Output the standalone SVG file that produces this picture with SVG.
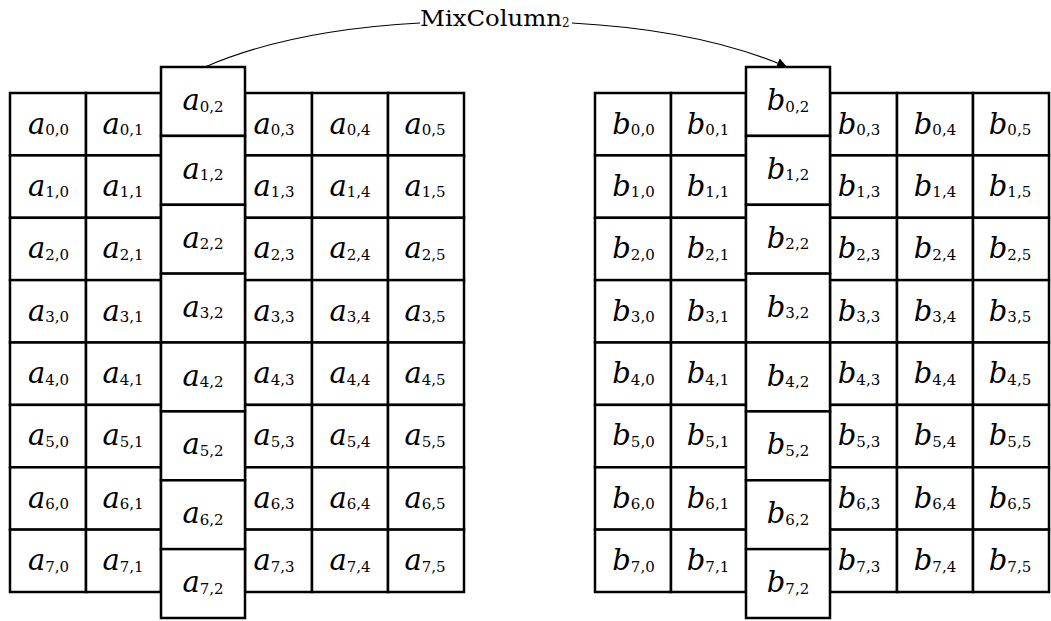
<svg xmlns="http://www.w3.org/2000/svg" width="1051" height="621" viewBox="0 0 1051 621">
<style>
  .c { fill: #ffffff; stroke: #000000; stroke-width: 2.5; }
  .t { font-family: "DejaVu Serif", "Liberation Serif", serif; text-anchor: middle; fill: #000000; }
  .v { font-size: 29px; font-style: italic; }
  .s { font-size: 15px; }
  .lbl { font-family: "DejaVu Serif", "Liberation Serif", serif; font-size: 22px; fill: #000000; }
  .edge { fill: none; stroke: #000000; stroke-width: 1.1; }
</style>
<defs>
  <marker id="head" viewBox="0 0 10 10" refX="10" refY="5" markerWidth="10" markerHeight="10" markerUnits="userSpaceOnUse" orient="auto">
    <path d="M0,0 L10,5 L0,10 Z" fill="#000000"/>
  </marker>
</defs>

<!-- input state: side columns -->
<g id="state-a">
<g id="a00"><rect class="c" x="10" y="93" width="76" height="62.4"/><text class="t" x="48.5" y="133.5"><tspan class="v">a</tspan><tspan class="s" dy="1.5">0,0</tspan></text></g>
<g id="a01"><rect class="c" x="86" y="93" width="75" height="62.4"/><text class="t" x="123" y="133.5"><tspan class="v">a</tspan><tspan class="s" dy="1.5">0,1</tspan></text></g>
<g id="a03"><rect class="c" x="245" y="93" width="67" height="62.4"/><text class="t" x="274" y="133.5"><tspan class="v">a</tspan><tspan class="s" dy="1.5">0,3</tspan></text></g>
<g id="a04"><rect class="c" x="312" y="93" width="76" height="62.4"/><text class="t" x="350" y="133.5"><tspan class="v">a</tspan><tspan class="s" dy="1.5">0,4</tspan></text></g>
<g id="a05"><rect class="c" x="388" y="93" width="76" height="62.4"/><text class="t" x="425" y="133.5"><tspan class="v">a</tspan><tspan class="s" dy="1.5">0,5</tspan></text></g>

<g id="a10"><rect class="c" x="10" y="155.4" width="76" height="62.4"/><text class="t" x="48.5" y="195.9"><tspan class="v">a</tspan><tspan class="s" dy="1.5">1,0</tspan></text></g>
<g id="a11"><rect class="c" x="86" y="155.4" width="75" height="62.4"/><text class="t" x="123" y="195.9"><tspan class="v">a</tspan><tspan class="s" dy="1.5">1,1</tspan></text></g>
<g id="a13"><rect class="c" x="245" y="155.4" width="67" height="62.4"/><text class="t" x="274" y="195.9"><tspan class="v">a</tspan><tspan class="s" dy="1.5">1,3</tspan></text></g>
<g id="a14"><rect class="c" x="312" y="155.4" width="76" height="62.4"/><text class="t" x="350" y="195.9"><tspan class="v">a</tspan><tspan class="s" dy="1.5">1,4</tspan></text></g>
<g id="a15"><rect class="c" x="388" y="155.4" width="76" height="62.4"/><text class="t" x="425" y="195.9"><tspan class="v">a</tspan><tspan class="s" dy="1.5">1,5</tspan></text></g>

<g id="a20"><rect class="c" x="10" y="217.8" width="76" height="62.4"/><text class="t" x="48.5" y="258.3"><tspan class="v">a</tspan><tspan class="s" dy="1.5">2,0</tspan></text></g>
<g id="a21"><rect class="c" x="86" y="217.8" width="75" height="62.4"/><text class="t" x="123" y="258.3"><tspan class="v">a</tspan><tspan class="s" dy="1.5">2,1</tspan></text></g>
<g id="a23"><rect class="c" x="245" y="217.8" width="67" height="62.4"/><text class="t" x="274" y="258.3"><tspan class="v">a</tspan><tspan class="s" dy="1.5">2,3</tspan></text></g>
<g id="a24"><rect class="c" x="312" y="217.8" width="76" height="62.4"/><text class="t" x="350" y="258.3"><tspan class="v">a</tspan><tspan class="s" dy="1.5">2,4</tspan></text></g>
<g id="a25"><rect class="c" x="388" y="217.8" width="76" height="62.4"/><text class="t" x="425" y="258.3"><tspan class="v">a</tspan><tspan class="s" dy="1.5">2,5</tspan></text></g>

<g id="a30"><rect class="c" x="10" y="280.1" width="76" height="62.4"/><text class="t" x="48.5" y="320.6"><tspan class="v">a</tspan><tspan class="s" dy="1.5">3,0</tspan></text></g>
<g id="a31"><rect class="c" x="86" y="280.1" width="75" height="62.4"/><text class="t" x="123" y="320.6"><tspan class="v">a</tspan><tspan class="s" dy="1.5">3,1</tspan></text></g>
<g id="a33"><rect class="c" x="245" y="280.1" width="67" height="62.4"/><text class="t" x="274" y="320.6"><tspan class="v">a</tspan><tspan class="s" dy="1.5">3,3</tspan></text></g>
<g id="a34"><rect class="c" x="312" y="280.1" width="76" height="62.4"/><text class="t" x="350" y="320.6"><tspan class="v">a</tspan><tspan class="s" dy="1.5">3,4</tspan></text></g>
<g id="a35"><rect class="c" x="388" y="280.1" width="76" height="62.4"/><text class="t" x="425" y="320.6"><tspan class="v">a</tspan><tspan class="s" dy="1.5">3,5</tspan></text></g>

<g id="a40"><rect class="c" x="10" y="342.5" width="76" height="62.4"/><text class="t" x="48.5" y="383"><tspan class="v">a</tspan><tspan class="s" dy="1.5">4,0</tspan></text></g>
<g id="a41"><rect class="c" x="86" y="342.5" width="75" height="62.4"/><text class="t" x="123" y="383"><tspan class="v">a</tspan><tspan class="s" dy="1.5">4,1</tspan></text></g>
<g id="a43"><rect class="c" x="245" y="342.5" width="67" height="62.4"/><text class="t" x="274" y="383"><tspan class="v">a</tspan><tspan class="s" dy="1.5">4,3</tspan></text></g>
<g id="a44"><rect class="c" x="312" y="342.5" width="76" height="62.4"/><text class="t" x="350" y="383"><tspan class="v">a</tspan><tspan class="s" dy="1.5">4,4</tspan></text></g>
<g id="a45"><rect class="c" x="388" y="342.5" width="76" height="62.4"/><text class="t" x="425" y="383"><tspan class="v">a</tspan><tspan class="s" dy="1.5">4,5</tspan></text></g>

<g id="a50"><rect class="c" x="10" y="404.9" width="76" height="62.4"/><text class="t" x="48.5" y="445.4"><tspan class="v">a</tspan><tspan class="s" dy="1.5">5,0</tspan></text></g>
<g id="a51"><rect class="c" x="86" y="404.9" width="75" height="62.4"/><text class="t" x="123" y="445.4"><tspan class="v">a</tspan><tspan class="s" dy="1.5">5,1</tspan></text></g>
<g id="a53"><rect class="c" x="245" y="404.9" width="67" height="62.4"/><text class="t" x="274" y="445.4"><tspan class="v">a</tspan><tspan class="s" dy="1.5">5,3</tspan></text></g>
<g id="a54"><rect class="c" x="312" y="404.9" width="76" height="62.4"/><text class="t" x="350" y="445.4"><tspan class="v">a</tspan><tspan class="s" dy="1.5">5,4</tspan></text></g>
<g id="a55"><rect class="c" x="388" y="404.9" width="76" height="62.4"/><text class="t" x="425" y="445.4"><tspan class="v">a</tspan><tspan class="s" dy="1.5">5,5</tspan></text></g>

<g id="a60"><rect class="c" x="10" y="467.3" width="76" height="62.4"/><text class="t" x="48.5" y="507.8"><tspan class="v">a</tspan><tspan class="s" dy="1.5">6,0</tspan></text></g>
<g id="a61"><rect class="c" x="86" y="467.3" width="75" height="62.4"/><text class="t" x="123" y="507.8"><tspan class="v">a</tspan><tspan class="s" dy="1.5">6,1</tspan></text></g>
<g id="a63"><rect class="c" x="245" y="467.3" width="67" height="62.4"/><text class="t" x="274" y="507.8"><tspan class="v">a</tspan><tspan class="s" dy="1.5">6,3</tspan></text></g>
<g id="a64"><rect class="c" x="312" y="467.3" width="76" height="62.4"/><text class="t" x="350" y="507.8"><tspan class="v">a</tspan><tspan class="s" dy="1.5">6,4</tspan></text></g>
<g id="a65"><rect class="c" x="388" y="467.3" width="76" height="62.4"/><text class="t" x="425" y="507.8"><tspan class="v">a</tspan><tspan class="s" dy="1.5">6,5</tspan></text></g>

<g id="a70"><rect class="c" x="10" y="529.6" width="76" height="62.4"/><text class="t" x="48.5" y="570.1"><tspan class="v">a</tspan><tspan class="s" dy="1.5">7,0</tspan></text></g>
<g id="a71"><rect class="c" x="86" y="529.6" width="75" height="62.4"/><text class="t" x="123" y="570.1"><tspan class="v">a</tspan><tspan class="s" dy="1.5">7,1</tspan></text></g>
<g id="a73"><rect class="c" x="245" y="529.6" width="67" height="62.4"/><text class="t" x="274" y="570.1"><tspan class="v">a</tspan><tspan class="s" dy="1.5">7,3</tspan></text></g>
<g id="a74"><rect class="c" x="312" y="529.6" width="76" height="62.4"/><text class="t" x="350" y="570.1"><tspan class="v">a</tspan><tspan class="s" dy="1.5">7,4</tspan></text></g>
<g id="a75"><rect class="c" x="388" y="529.6" width="76" height="62.4"/><text class="t" x="425" y="570.1"><tspan class="v">a</tspan><tspan class="s" dy="1.5">7,5</tspan></text></g>
</g>

<!-- input state: column 2, shifted and taller -->
<g id="column-a2">
<g id="a02"><rect class="c" x="161" y="67" width="84" height="68.9"/><text class="t" x="203" y="110"><tspan class="v">a</tspan><tspan class="s" dy="1.5">0,2</tspan></text></g>
<g id="a12"><rect class="c" x="161" y="135.9" width="84" height="68.9"/><text class="t" x="203" y="178.9"><tspan class="v">a</tspan><tspan class="s" dy="1.5">1,2</tspan></text></g>
<g id="a22"><rect class="c" x="161" y="204.8" width="84" height="68.9"/><text class="t" x="203" y="247.8"><tspan class="v">a</tspan><tspan class="s" dy="1.5">2,2</tspan></text></g>
<g id="a32"><rect class="c" x="161" y="273.6" width="84" height="68.9"/><text class="t" x="203" y="316.6"><tspan class="v">a</tspan><tspan class="s" dy="1.5">3,2</tspan></text></g>
<g id="a42"><rect class="c" x="161" y="342.5" width="84" height="68.9"/><text class="t" x="203" y="385.5"><tspan class="v">a</tspan><tspan class="s" dy="1.5">4,2</tspan></text></g>
<g id="a52"><rect class="c" x="161" y="411.4" width="84" height="68.9"/><text class="t" x="203" y="454.4"><tspan class="v">a</tspan><tspan class="s" dy="1.5">5,2</tspan></text></g>
<g id="a62"><rect class="c" x="161" y="480.3" width="84" height="68.9"/><text class="t" x="203" y="523.3"><tspan class="v">a</tspan><tspan class="s" dy="1.5">6,2</tspan></text></g>
<g id="a72"><rect class="c" x="161" y="549.1" width="84" height="68.9"/><text class="t" x="203" y="592.1"><tspan class="v">a</tspan><tspan class="s" dy="1.5">7,2</tspan></text></g>
</g>

<!-- output state: side columns -->
<g id="state-b">
<g id="b00"><rect class="c" x="595" y="93" width="76" height="62.4"/><text class="t" x="633.5" y="133.5"><tspan class="v">b</tspan><tspan class="s" dy="1.5">0,0</tspan></text></g>
<g id="b01"><rect class="c" x="671" y="93" width="75" height="62.4"/><text class="t" x="708" y="133.5"><tspan class="v">b</tspan><tspan class="s" dy="1.5">0,1</tspan></text></g>
<g id="b03"><rect class="c" x="830" y="93" width="67" height="62.4"/><text class="t" x="859" y="133.5"><tspan class="v">b</tspan><tspan class="s" dy="1.5">0,3</tspan></text></g>
<g id="b04"><rect class="c" x="897" y="93" width="76" height="62.4"/><text class="t" x="935" y="133.5"><tspan class="v">b</tspan><tspan class="s" dy="1.5">0,4</tspan></text></g>
<g id="b05"><rect class="c" x="973" y="93" width="76" height="62.4"/><text class="t" x="1010" y="133.5"><tspan class="v">b</tspan><tspan class="s" dy="1.5">0,5</tspan></text></g>

<g id="b10"><rect class="c" x="595" y="155.4" width="76" height="62.4"/><text class="t" x="633.5" y="195.9"><tspan class="v">b</tspan><tspan class="s" dy="1.5">1,0</tspan></text></g>
<g id="b11"><rect class="c" x="671" y="155.4" width="75" height="62.4"/><text class="t" x="708" y="195.9"><tspan class="v">b</tspan><tspan class="s" dy="1.5">1,1</tspan></text></g>
<g id="b13"><rect class="c" x="830" y="155.4" width="67" height="62.4"/><text class="t" x="859" y="195.9"><tspan class="v">b</tspan><tspan class="s" dy="1.5">1,3</tspan></text></g>
<g id="b14"><rect class="c" x="897" y="155.4" width="76" height="62.4"/><text class="t" x="935" y="195.9"><tspan class="v">b</tspan><tspan class="s" dy="1.5">1,4</tspan></text></g>
<g id="b15"><rect class="c" x="973" y="155.4" width="76" height="62.4"/><text class="t" x="1010" y="195.9"><tspan class="v">b</tspan><tspan class="s" dy="1.5">1,5</tspan></text></g>

<g id="b20"><rect class="c" x="595" y="217.8" width="76" height="62.4"/><text class="t" x="633.5" y="258.3"><tspan class="v">b</tspan><tspan class="s" dy="1.5">2,0</tspan></text></g>
<g id="b21"><rect class="c" x="671" y="217.8" width="75" height="62.4"/><text class="t" x="708" y="258.3"><tspan class="v">b</tspan><tspan class="s" dy="1.5">2,1</tspan></text></g>
<g id="b23"><rect class="c" x="830" y="217.8" width="67" height="62.4"/><text class="t" x="859" y="258.3"><tspan class="v">b</tspan><tspan class="s" dy="1.5">2,3</tspan></text></g>
<g id="b24"><rect class="c" x="897" y="217.8" width="76" height="62.4"/><text class="t" x="935" y="258.3"><tspan class="v">b</tspan><tspan class="s" dy="1.5">2,4</tspan></text></g>
<g id="b25"><rect class="c" x="973" y="217.8" width="76" height="62.4"/><text class="t" x="1010" y="258.3"><tspan class="v">b</tspan><tspan class="s" dy="1.5">2,5</tspan></text></g>

<g id="b30"><rect class="c" x="595" y="280.1" width="76" height="62.4"/><text class="t" x="633.5" y="320.6"><tspan class="v">b</tspan><tspan class="s" dy="1.5">3,0</tspan></text></g>
<g id="b31"><rect class="c" x="671" y="280.1" width="75" height="62.4"/><text class="t" x="708" y="320.6"><tspan class="v">b</tspan><tspan class="s" dy="1.5">3,1</tspan></text></g>
<g id="b33"><rect class="c" x="830" y="280.1" width="67" height="62.4"/><text class="t" x="859" y="320.6"><tspan class="v">b</tspan><tspan class="s" dy="1.5">3,3</tspan></text></g>
<g id="b34"><rect class="c" x="897" y="280.1" width="76" height="62.4"/><text class="t" x="935" y="320.6"><tspan class="v">b</tspan><tspan class="s" dy="1.5">3,4</tspan></text></g>
<g id="b35"><rect class="c" x="973" y="280.1" width="76" height="62.4"/><text class="t" x="1010" y="320.6"><tspan class="v">b</tspan><tspan class="s" dy="1.5">3,5</tspan></text></g>

<g id="b40"><rect class="c" x="595" y="342.5" width="76" height="62.4"/><text class="t" x="633.5" y="383"><tspan class="v">b</tspan><tspan class="s" dy="1.5">4,0</tspan></text></g>
<g id="b41"><rect class="c" x="671" y="342.5" width="75" height="62.4"/><text class="t" x="708" y="383"><tspan class="v">b</tspan><tspan class="s" dy="1.5">4,1</tspan></text></g>
<g id="b43"><rect class="c" x="830" y="342.5" width="67" height="62.4"/><text class="t" x="859" y="383"><tspan class="v">b</tspan><tspan class="s" dy="1.5">4,3</tspan></text></g>
<g id="b44"><rect class="c" x="897" y="342.5" width="76" height="62.4"/><text class="t" x="935" y="383"><tspan class="v">b</tspan><tspan class="s" dy="1.5">4,4</tspan></text></g>
<g id="b45"><rect class="c" x="973" y="342.5" width="76" height="62.4"/><text class="t" x="1010" y="383"><tspan class="v">b</tspan><tspan class="s" dy="1.5">4,5</tspan></text></g>

<g id="b50"><rect class="c" x="595" y="404.9" width="76" height="62.4"/><text class="t" x="633.5" y="445.4"><tspan class="v">b</tspan><tspan class="s" dy="1.5">5,0</tspan></text></g>
<g id="b51"><rect class="c" x="671" y="404.9" width="75" height="62.4"/><text class="t" x="708" y="445.4"><tspan class="v">b</tspan><tspan class="s" dy="1.5">5,1</tspan></text></g>
<g id="b53"><rect class="c" x="830" y="404.9" width="67" height="62.4"/><text class="t" x="859" y="445.4"><tspan class="v">b</tspan><tspan class="s" dy="1.5">5,3</tspan></text></g>
<g id="b54"><rect class="c" x="897" y="404.9" width="76" height="62.4"/><text class="t" x="935" y="445.4"><tspan class="v">b</tspan><tspan class="s" dy="1.5">5,4</tspan></text></g>
<g id="b55"><rect class="c" x="973" y="404.9" width="76" height="62.4"/><text class="t" x="1010" y="445.4"><tspan class="v">b</tspan><tspan class="s" dy="1.5">5,5</tspan></text></g>

<g id="b60"><rect class="c" x="595" y="467.3" width="76" height="62.4"/><text class="t" x="633.5" y="507.8"><tspan class="v">b</tspan><tspan class="s" dy="1.5">6,0</tspan></text></g>
<g id="b61"><rect class="c" x="671" y="467.3" width="75" height="62.4"/><text class="t" x="708" y="507.8"><tspan class="v">b</tspan><tspan class="s" dy="1.5">6,1</tspan></text></g>
<g id="b63"><rect class="c" x="830" y="467.3" width="67" height="62.4"/><text class="t" x="859" y="507.8"><tspan class="v">b</tspan><tspan class="s" dy="1.5">6,3</tspan></text></g>
<g id="b64"><rect class="c" x="897" y="467.3" width="76" height="62.4"/><text class="t" x="935" y="507.8"><tspan class="v">b</tspan><tspan class="s" dy="1.5">6,4</tspan></text></g>
<g id="b65"><rect class="c" x="973" y="467.3" width="76" height="62.4"/><text class="t" x="1010" y="507.8"><tspan class="v">b</tspan><tspan class="s" dy="1.5">6,5</tspan></text></g>

<g id="b70"><rect class="c" x="595" y="529.6" width="76" height="62.4"/><text class="t" x="633.5" y="570.1"><tspan class="v">b</tspan><tspan class="s" dy="1.5">7,0</tspan></text></g>
<g id="b71"><rect class="c" x="671" y="529.6" width="75" height="62.4"/><text class="t" x="708" y="570.1"><tspan class="v">b</tspan><tspan class="s" dy="1.5">7,1</tspan></text></g>
<g id="b73"><rect class="c" x="830" y="529.6" width="67" height="62.4"/><text class="t" x="859" y="570.1"><tspan class="v">b</tspan><tspan class="s" dy="1.5">7,3</tspan></text></g>
<g id="b74"><rect class="c" x="897" y="529.6" width="76" height="62.4"/><text class="t" x="935" y="570.1"><tspan class="v">b</tspan><tspan class="s" dy="1.5">7,4</tspan></text></g>
<g id="b75"><rect class="c" x="973" y="529.6" width="76" height="62.4"/><text class="t" x="1010" y="570.1"><tspan class="v">b</tspan><tspan class="s" dy="1.5">7,5</tspan></text></g>
</g>

<!-- output state: column 2 -->
<g id="column-b2">
<g id="b02"><rect class="c" x="746" y="67" width="84" height="68.9"/><text class="t" x="788" y="110"><tspan class="v">b</tspan><tspan class="s" dy="1.5">0,2</tspan></text></g>
<g id="b12"><rect class="c" x="746" y="135.9" width="84" height="68.9"/><text class="t" x="788" y="178.9"><tspan class="v">b</tspan><tspan class="s" dy="1.5">1,2</tspan></text></g>
<g id="b22"><rect class="c" x="746" y="204.8" width="84" height="68.9"/><text class="t" x="788" y="247.8"><tspan class="v">b</tspan><tspan class="s" dy="1.5">2,2</tspan></text></g>
<g id="b32"><rect class="c" x="746" y="273.6" width="84" height="68.9"/><text class="t" x="788" y="316.6"><tspan class="v">b</tspan><tspan class="s" dy="1.5">3,2</tspan></text></g>
<g id="b42"><rect class="c" x="746" y="342.5" width="84" height="68.9"/><text class="t" x="788" y="385.5"><tspan class="v">b</tspan><tspan class="s" dy="1.5">4,2</tspan></text></g>
<g id="b52"><rect class="c" x="746" y="411.4" width="84" height="68.9"/><text class="t" x="788" y="454.4"><tspan class="v">b</tspan><tspan class="s" dy="1.5">5,2</tspan></text></g>
<g id="b62"><rect class="c" x="746" y="480.3" width="84" height="68.9"/><text class="t" x="788" y="523.3"><tspan class="v">b</tspan><tspan class="s" dy="1.5">6,2</tspan></text></g>
<g id="b72"><rect class="c" x="746" y="549.1" width="84" height="68.9"/><text class="t" x="788" y="592.1"><tspan class="v">b</tspan><tspan class="s" dy="1.5">7,2</tspan></text></g>
</g>

<!-- connector: column 2 of a mixed into column 2 of b -->
<g id="connectors">
  <path class="edge" d="M205,67 Q290,30 420,23"/>
  <path class="edge" d="M572,23 Q701,30 787,67" marker-end="url(#head)"/>
  <text class="lbl" x="420" y="26"><tspan textLength="142" lengthAdjust="spacingAndGlyphs">MixColumn</tspan><tspan font-size="12" dy="0.7">2</tspan></text>
</g>
</svg>
